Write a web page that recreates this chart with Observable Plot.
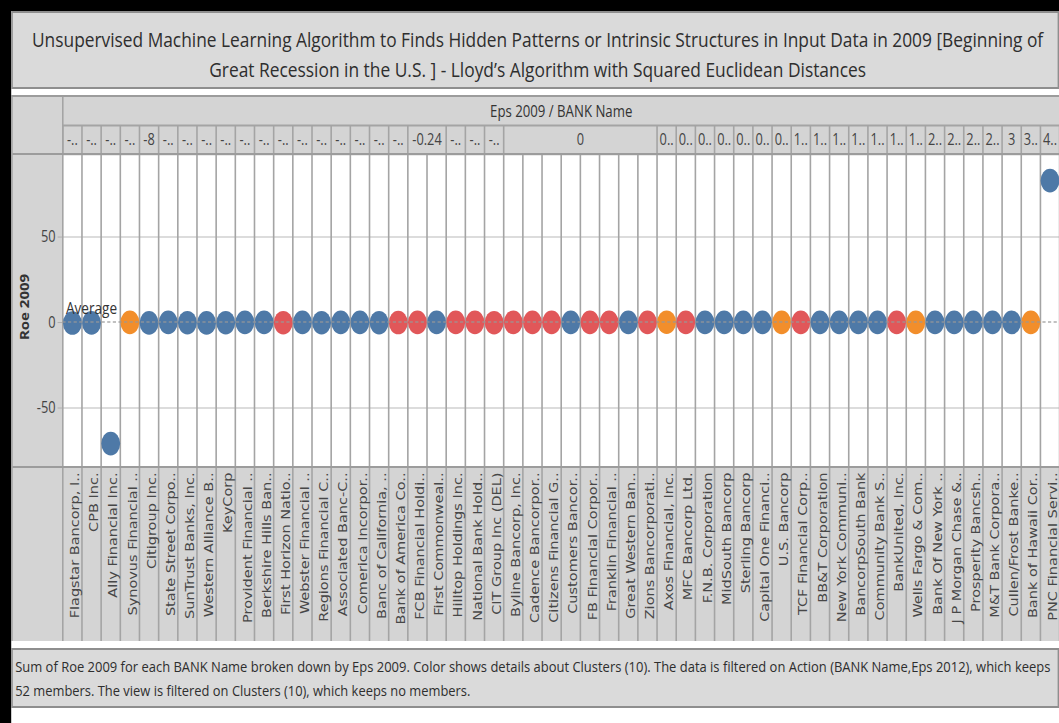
<!DOCTYPE html>
<html><head><meta charset="utf-8">
<script src="https://cdn.jsdelivr.net/npm/d3@7"></script>
<script src="https://cdn.jsdelivr.net/npm/@observablehq/plot@0.6"></script>
<style>
html,body{margin:0;padding:0;background:#000;overflow:hidden;width:1059px;height:723px;}
#wrap{position:absolute;left:0;top:0;width:1324px;height:723px;transform:scaleX(0.8);transform-origin:0 0;}
#page{position:absolute;left:14px;top:11px;width:1310px;height:712px;background:#fff;}
#title{position:absolute;left:0;top:0;width:1310px;height:78px;box-sizing:border-box;border:2px solid #8e8e8e;background:#dadada;}
#panel{position:absolute;left:0;top:84px;width:1310px;box-sizing:border-box;border-top:2px solid #9c9c9c;border-left:2px solid #9c9c9c;background:#d4d4d4;}
#hdr{border-bottom:2px solid #9c9c9c;height:56px;}
#names{border-top:2px solid #9c9c9c;}
#footer{position:absolute;left:0;top:637px;width:1310px;height:60px;box-sizing:border-box;border:2px solid #8e8e8e;background:#dadada;}
svg{display:block;}
</style></head>
<body>
<div id="wrap"><div id="page">
  <div id="title"></div>
  <div id="panel"><div id="hdr"></div><div id="main"></div><div id="names"></div></div>
  <div id="footer"></div>
</div></div>
<script>
// ---- data ----
const titleLines = [
  "Unsupervised Machine Learning Algorithm to Finds Hidden Patterns or Intrinsic Structures in Input Data in 2009 [Beginning of",
  "Great Recession in the U.S. ] - Lloyd\u2019s Algorithm with Squared Euclidean Distances"
];
const captionLines = [
  "Sum of Roe 2009 for each BANK Name broken down by Eps 2009.  Color shows details about Clusters (10). The data is filtered on Action (BANK Name,Eps 2012), which keeps",
  "52 members. The view is filtered on Clusters (10), which keeps no members."
];
const headerTitle = "Eps 2009 / BANK Name";
const yLabel = "Roe 2009";
const yTicks = [-50, 0, 50];

const banks = ["Flagstar Bancorp, I..","CPB Inc.","Ally Financial Inc.","Synovus Financial ..","Citigroup Inc.","State Street Corpo..","SunTrust Banks, Inc.","Western Alliance B..","KeyCorp","Provident Financial ..","Berkshire Hills Ban..","First Horizon Natio..","Webster Financial ..","Regions Financial C..","Associated Banc-C..","Comerica Incorpor..","Banc of California, ..","Bank of America Co..","FCB Financial Holdi..","First Commonweal..","Hilltop Holdings Inc.","National Bank Hold..","CIT Group Inc (DEL)","Byline Bancorp, Inc.","Cadence Bancorpor..","Citizens Financial G..","Customers Bancor..","FB Financial Corpor..","Franklin Financial ..","Great Western Ban..","Zions Bancorporati..","Axos Financial, Inc.","MFC Bancorp Ltd.","F.N.B. Corporation","MidSouth Bancorp","Sterling Bancorp","Capital One Financi..","U.S. Bancorp","TCF Financial Corp..","BB&T Corporation","New York Communi..","BancorpSouth Bank","Community Bank S..","BankUnited, Inc.","Wells Fargo & Com..","Bank Of New York ..","J P Morgan Chase &..","Prosperity Bancsh..","M&T Bank Corpora..","Cullen/Frost Banke..","Bank of Hawaii Cor..","PNC Financial Servi.."];

const eps2009 = [-26.63,-10.58,-9.6,-8.23,-8,-7.2,-5.62,-3.26,-3.18,-2.54,-2.14,-1.8,-1.54,-1.27,-1.1,-0.79,-0.52,-0.29,-0.24,-0.24,-0.19,-0.12,-0.04,0,0,0,0,0,0,0,0,0.22,0.31,0.42,0.55,0.68,0.74,0.97,1.09,1.15,1.28,1.41,1.55,1.62,1.75,2.05,2.26,2.45,2.89,3,3.03,4.36];

const roe2009 = [-0.3,-0.2,-70.8,0.1,-0.2,0.1,-0.1,-0.2,-0.1,0.1,0.1,-0.1,0.1,-0.1,0.1,0.1,-0.1,0.0,0.1,0.1,0.1,0.1,-0.1,0.1,0.1,0.1,0.1,0.1,0.1,0.1,0.1,0.2,0.1,0.1,0.1,0.1,0.1,0.1,0.1,0.1,0.1,0.1,0.1,0.1,0.1,0.1,0.1,0.1,0.1,0.1,0.1,83.0];

const clusters = ["Cluster 1","Cluster 1","Cluster 1","Cluster 2","Cluster 1","Cluster 1","Cluster 1","Cluster 1","Cluster 1","Cluster 1",
"Cluster 1","Cluster 3","Cluster 1","Cluster 1","Cluster 1","Cluster 1","Cluster 1","Cluster 3","Cluster 3","Cluster 1",
"Cluster 3","Cluster 3","Cluster 3","Cluster 3","Cluster 3","Cluster 3","Cluster 1","Cluster 3","Cluster 3","Cluster 1",
"Cluster 3","Cluster 2","Cluster 3","Cluster 1","Cluster 1","Cluster 1","Cluster 1","Cluster 2","Cluster 3","Cluster 1",
"Cluster 1","Cluster 1","Cluster 1","Cluster 3","Cluster 2","Cluster 1","Cluster 1","Cluster 1","Cluster 1","Cluster 1",
"Cluster 2","Cluster 1"];
const clusterNames = ["Cluster 1","Cluster 2","Cluster 3"];
const clusterColors = ["#4e79a7","#f28e2b","#e15759"];

// ---- layout constants ----
const W = 1308, ML = 62;
const n = banks.length;
const idx = d3.range(n);
const step = (W - ML) / n;
const sepColor = "#a4a4a4";
const bg = "#d4d4d4";
const font = "'Open Sans', 'DejaVu Sans', sans-serif";

// title
{
  const svg = d3.select("#title").append("svg").attr("width", 1306).attr("height", 74);
  const lens = [1264, 821];
  titleLines.forEach((t, i) => {
    svg.append("text").attr("x", 656).attr("y", 34 + i * 30).attr("text-anchor", "middle")
      .attr("textLength", lens[i]).attr("lengthAdjust", "spacingAndGlyphs")
      .attr("font-family", font).attr("font-size", 20).attr("fill", "#2e2e2e").text(t);
  });
}
// footer
{
  const svg = d3.select("#footer").append("svg").attr("width", 1306).attr("height", 56);
  const lens = [1294, 569];
  captionLines.forEach((t, i) => {
    svg.append("text").attr("x", 3).attr("y", 22 + i * 24)
      .attr("textLength", lens[i]).attr("lengthAdjust", "spacingAndGlyphs")
      .attr("font-family", font).attr("font-size", 15).attr("fill", "#2e2e2e").text(t);
  });
}

// eps groups
const ctx = document.createElement("canvas").getContext("2d");
ctx.font = "16px 'Open Sans'";
const groups = [];
let s = 0;
for (let i = 1; i <= n; i++) {
  if (i === n || eps2009[i] !== eps2009[s]) {
    const full = String(eps2009[s]);
    const fits = ctx.measureText(full).width <= (i - s) * step - 6;
    groups.push({start: s, end: i, label: fits ? full : full.slice(0, 1) + ".."});
    s = i;
  }
}
const bounds = [0, ...groups.map(g => g.end)];

// header
const hdr = Plot.plot({
  width: W, height: 56, marginLeft: ML, marginRight: 0, marginTop: 0, marginBottom: 0,
  style: {background: bg, fontFamily: font, fontSize: "14px", overflow: "visible"},
  x: {domain: [0, n], axis: null},
  y: {domain: [0, 2], axis: null},
  marks: [
    Plot.ruleY([1], {stroke: sepColor, strokeWidth: 2}),
    Plot.ruleX(bounds, {y1: 0, y2: 1, stroke: sepColor, strokeWidth: 2}),
    Plot.ruleX([0], {stroke: sepColor, strokeWidth: 2}),
    Plot.text([headerTitle], {x: n / 2, y: 1.5, fill: "#333", fontSize: 16.5}),
    Plot.text(groups, {x: d => (d.start + d.end) / 2, y: 0.5, text: "label", fill: "#444", fontSize: 16})
  ]
});
document.getElementById("hdr").append(hdr);

// main plot
const avg = d3.mean(roe2009);
const main = Plot.plot({
  width: W, height: 311, marginLeft: ML, marginRight: 0, marginTop: 0, marginBottom: 0,
  style: {background: bg, fontFamily: font, fontSize: "16px", color: "#444"},
  x: {domain: [0, n], axis: null},
  y: {domain: [-84.2, 97.7], axis: null},
  color: {domain: clusterNames, range: clusterColors},
  marks: [
    Plot.frame({fill: "#fff", stroke: null}),
    Plot.ruleY([-50, 50], {stroke: "#d0d0d0", strokeWidth: 1.5}),
    Plot.ruleX(d3.range(n + 1), {stroke: sepColor, strokeWidth: 2}),
    Plot.axisY(yTicks, {tickSize: 6, tickPadding: 3, stroke: "#aaa", label: null, fontSize: 16, fill: "#444", tickFormat: d => String(d)}),
    Plot.text([yLabel], {frameAnchor: "left", dx: -47, dy: -4, rotate: -90, textAnchor: "middle", fontWeight: "bold", fontSize: 15, fill: "#333"}),
    Plot.dot(idx, {x: i => i + 0.5, y: i => roe2009[i], fill: i => clusters[i], r: 11.8, stroke: null}),
    Plot.ruleY([avg], {stroke: "#999", strokeDasharray: "4,3", strokeWidth: 1.5, strokeOpacity: 0.8}),
    Plot.text(["Average"], {x: 0, y: avg, dx: 4, dy: -14, textAnchor: "start", fill: "#333", fontSize: 17})
  ]
});
document.getElementById("main").append(main);

// bank names
const names = Plot.plot({
  width: W, height: 173, marginLeft: ML, marginRight: 0, marginTop: 0, marginBottom: 0,
  style: {background: bg, fontFamily: font},
  x: {domain: [0, n], axis: null},
  marks: [
    Plot.ruleX(d3.range(n + 1), {stroke: sepColor, strokeWidth: 2}),
    Plot.text(idx, {x: i => i + 0.5, text: i => banks[i], frameAnchor: "top", rotate: -90, textAnchor: "end", dy: 4, dx: -2,
      fontFamily: "'DejaVu Sans', sans-serif", fontSize: 14.5, fill: "#474747"})
  ]
});
document.getElementById("names").append(names);
</script>
</body></html>
